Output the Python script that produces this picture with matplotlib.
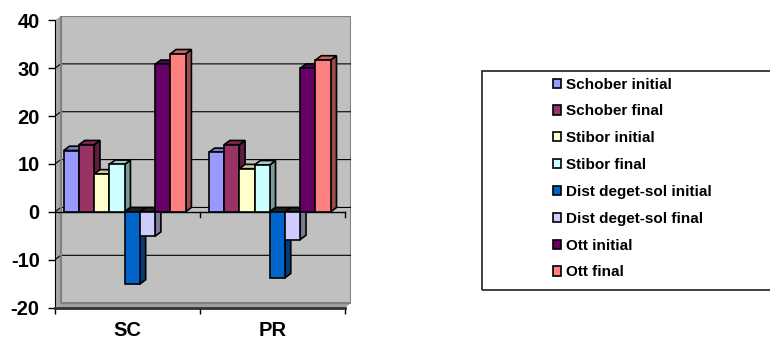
import matplotlib
matplotlib.use("Agg")
import matplotlib.pyplot as plt
from matplotlib.patches import Polygon, Rectangle, Patch
from matplotlib.colors import to_rgb

# valores por grupo (SC, PR)
categories = ["SC", "PR"]
series = ["Schober initial", "Schober final", "Stibor initial", "Stibor final",
          "Dist deget-sol initial", "Dist deget-sol final", "Ott initial", "Ott final"]
colors = ["#9999FF", "#993366", "#FFFFCC", "#CCFFFF",
          "#0066CC", "#CCCCFF", "#660066", "#FF8080"]
values_sc = [12.8, 14.0, 7.9, 9.9, -15.1, -5.1, 30.8, 33.0]
values_pr = [12.4, 14.0, 9.0, 9.8, -13.8, -5.8, 30.0, 31.7]
yticks = [-20, -10, 0, 10, 20, 30, 40]

plt.rcParams["font.family"] = ["Liberation Sans", "DejaVu Sans"]
plt.rcParams["font.weight"] = "bold"
plt.rcParams["axes.unicode_minus"] = False

fig = plt.figure(figsize=(7.7, 3.42), dpi=100)
ax = fig.add_axes([55 / 770, (342 - 307.5) / 342, 296 / 770, 291.5 / 342])

ymin, ymax = -20, 40
DX, DY = 0.04, 0.9          # desplazamiento de profundidad (efecto 3D)
ax.set_xlim(0, 2 + DX)
ax.set_ylim(ymin, ymax + DY)

wall = "#C0C0C0"
# pared lateral, suelo y pared del fondo
ax.add_patch(Polygon([(0, ymin), (DX, ymin + DY), (DX, ymax + DY), (0, ymax)],
                     closed=True, facecolor="#A8A8A8", edgecolor="none", zorder=0))
ax.add_patch(Polygon([(0, ymin), (2, ymin), (2 + DX, ymin + DY), (DX, ymin + DY)],
                     closed=True, facecolor="#A0A0A0", edgecolor="none", zorder=0))
ax.add_patch(Rectangle((DX, ymin + DY), 2, ymax - ymin, facecolor=wall,
                       edgecolor="#808080", linewidth=1.5, zorder=0.5))

# lineas de division sobre la pared
for v in yticks[1:-1]:
    ax.plot([0, DX, 2 + DX], [v, v + DY, v + DY], color="black", lw=0.8, zorder=1)
ax.plot([DX, DX], [ymin + DY, ymax + DY], color="#808080", lw=1.5, zorder=1)

# eje de categorias en cero
ax.plot([0, 2], [0, 0], color="black", lw=1, zorder=1)
for xc in [1, 2]:
    ax.plot([xc, xc], [0, -1.1], color="black", lw=1, zorder=1)


def shade(c, f):
    r, g, b = to_rgb(c)
    return (r * f, g * f, b * f)


n = len(series)
bw = 0.105
gap = (1 - n * bw) / 2 - DX / 2
z = 2
for gi, vals in enumerate([values_sc, values_pr]):
    for i, (v, c) in enumerate(zip(vals, colors)):
        x0 = gi + gap + i * bw
        x1 = x0 + bw
        top = max(v, 0)
        bot = min(v, 0)
        # cara lateral
        ax.add_patch(Polygon([(x1, bot), (x1 + DX, bot + DY), (x1 + DX, top + DY), (x1, top)],
                             closed=True, facecolor=shade(c, 0.6), edgecolor="black",
                             linewidth=1.2, zorder=z))
        # cara superior
        ax.add_patch(Polygon([(x0, top), (x0 + DX, top + DY), (x1 + DX, top + DY), (x1, top)],
                             closed=True, facecolor=shade(c, 0.8) if v > 0 else "#202020",
                             edgecolor="black", linewidth=1.2, zorder=z))
        # cara frontal
        ax.bar(x0, v, width=bw, align="edge", color=c, edgecolor="black",
               linewidth=1.2, zorder=z + 0.5)
        z += 1

# ejes
for s in ["top", "right"]:
    ax.spines[s].set_visible(False)
ax.spines["left"].set_bounds(ymin, ymax)
ax.spines["bottom"].set_bounds(0, 2)
ax.spines["bottom"].set_linewidth(2)
ax.spines["bottom"].set_color("#303030")
ax.spines["bottom"].set_zorder(50)
ax.spines["left"].set_zorder(50)

ax.set_yticks(yticks)
ax.tick_params(axis="y", length=5, width=1, pad=6, labelsize=14.5)
ax.set_xticks([0.5, 1.5])
ax.set_xticklabels(categories, fontsize=14.5, fontweight="bold")
ax.set_xticks([0, 1, 2], minor=True)
ax.tick_params(axis="x", which="major", length=0, pad=10)
ax.tick_params(axis="x", which="minor", length=4, width=1)
for lab in ax.get_yticklabels():
    lab.set_fontweight("bold")

# leyenda en recuadro
fig.add_artist(Rectangle((482 / 770, (342 - 289.5) / 342), 290 / 770, 218.5 / 342,
                         transform=fig.transFigure, fill=False, edgecolor="#202020",
                         linewidth=1.2))
handles = [Patch(facecolor=c, edgecolor="black", linewidth=1.2) for c in colors]
fig.legend(handles, series, loc="upper left", bbox_to_anchor=(548 / 770, 1 - 73 / 342),
           frameon=False, handlelength=0.55, handleheight=0.55,
           handletextpad=0.35, labelspacing=0.84, borderaxespad=0, borderpad=0.3,
           prop={"weight": "bold", "size": 11})

fig.savefig("out.png", dpi=100)
